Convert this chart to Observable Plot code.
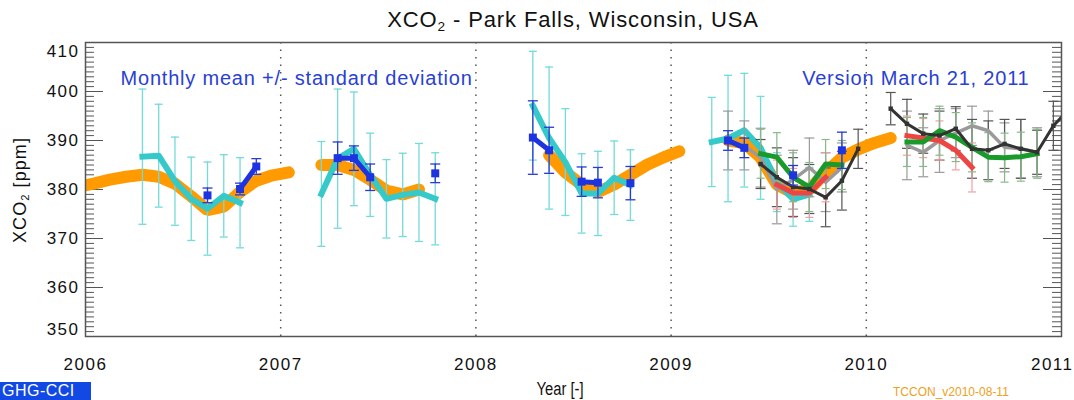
<!DOCTYPE html>
<html>
<head>
<meta charset="utf-8">
<script src="https://cdn.jsdelivr.net/npm/d3@7"></script>
<script src="https://cdn.jsdelivr.net/npm/@observablehq/plot@0.6"></script>
<style>
  body { margin: 0; background: #fff; }
  #wrap { position: relative; width: 1074px; height: 400px; overflow: hidden; font-family: "Liberation Sans", Arial, sans-serif; color: #111; }
  .abs { position: absolute; white-space: nowrap; }
  .sub { font-size: 0.62em; position: relative; top: 0.3em; }
</style>
</head>
<body>
<div id="wrap">
  <div id="chart"></div>
  <div class="abs" style="left:85px;width:976px;top:7px;text-align:center;font-size:22px;letter-spacing:0.04em;">XCO<span class="sub">2</span> - Park Falls, Wisconsin, USA</div>
  <div class="abs" style="left:20px;top:190px;transform:translate(-50%,-50%) rotate(-90deg);font-size:18px;letter-spacing:0.06em;">XCO<span class="sub">2</span> [ppm]</div>
  <div class="abs" style="left:560px;top:379px;transform:translateX(-50%) scaleX(0.82);font-size:18px;">Year [-]</div>
  <div class="abs" style="left:0;top:382px;width:91px;height:18px;line-height:18px;background:#1248e4;color:#fff;font-size:16px;letter-spacing:0.03em;padding-left:2px;box-sizing:border-box;">GHG-CCI</div>
  <div class="abs" style="left:893px;top:385px;font-size:12px;color:#f0a020;">TCCON_v2010-08-11</div>
</div>
<script>
// ---------------- data ----------------
const xTicks = [2006, 2007, 2008, 2009, 2010, 2011];
const yTicks = [350, 360, 370, 380, 390, 400, 410];
const yearLines = [2007, 2008, 2009, 2010];

// model (orange band)
const orangeMonths = ["2005-12","2006-01","2006-02","2006-03","2006-04","2006-05","2006-06","2006-07","2006-08","2006-09","2006-10","2006-11","2006-12","2007-01",
  "2007-03","2007-04","2007-05","2007-06","2007-07","2007-08","2007-09",
  "2008-05","2008-06","2008-07","2008-08","2008-09","2008-10","2008-11","2008-12","2009-01",
  "2009-04","2009-05","2009-06","2009-07","2009-08","2009-09","2009-10","2009-11","2009-12","2010-01","2010-02"];
const orangeValues = [380.5,381.2,382.0,382.6,383.0,382.6,381.2,378.6,375.8,376.5,379.5,381.8,382.9,383.5,
  385.0,385.0,384.0,382.0,379.8,379.0,380.0,
  387.0,383.5,381.0,379.5,381.0,383.0,385.0,386.5,387.8,
  390.0,389.5,386.5,381.0,379.3,380.0,383.5,386.5,388.2,389.5,390.5];

// satellite monthly mean (cyan)
const cyanMonths = ["2006-04","2006-05","2006-06","2006-07","2006-08","2006-09","2006-10",
  "2007-03","2007-04","2007-05","2007-06","2007-07","2007-08","2007-09","2007-10",
  "2008-04","2008-05","2008-06","2008-07","2008-08","2008-09","2008-10",
  "2009-03","2009-04","2009-05","2009-06","2009-07","2009-08","2009-09"];
const cyanValues = [386.7,386.9,381.7,378.1,376.1,378.7,377.3,
  379.1,386.3,388.3,383.0,378.1,378.9,379.4,378.1,
  397.1,390.5,385.6,379.2,379.2,382.4,380.9,
  389.7,390.4,392.1,388.5,381.5,378.0,379.0];
const cyanSD = [13.8,10.5,9.0,8.5,9.5,8.4,9.2,
  10.7,14.2,11.6,8.5,8.0,8.5,10.0,9.4,
  11.1,14.5,10.9,8.1,8.6,7.5,7.2,
  9.1,12.9,11.6,10.5,6.0,5.5,5.5];

// TCCON (blue)
const blueMonths = ["2006-08","2006-10","2006-11","2007-04","2007-05","2007-06","2007-10",
  "2008-04","2008-05","2008-07","2008-08","2008-10","2009-04","2009-05","2009-08","2009-11"];
const blueValues = [378.8,380.1,384.7,386.4,386.4,382.5,383.3,
  390.6,388.0,381.6,381.4,381.3,390.0,388.5,382.9,388.0];
const blueSD = [1.5,1.2,1.6,3.3,2.5,2.7,1.9,
  7.5,4.7,3.0,3.1,3.4,2.0,2.0,2.0,3.7];

// other retrievals 2009-2010
const darkGrayMonths = ["2009-06","2009-07","2009-08","2009-09","2009-10","2009-11","2009-12",
  "2010-02","2010-03","2010-04","2010-05","2010-06","2010-07","2010-08","2010-09","2010-10","2010-11","2010-12","2011-01"];
const darkGrayValues = [385.2,382.5,380.5,380.1,378.4,381.8,388.3,
  396.5,393.4,391.4,391.0,392.4,388.3,388.0,389.3,388.3,387.6,393.0,396.5];
const darkGraySD = [5,6,6,5,6,6,4, 3.3,5,4,5,4.5,6,6,5,6,4.5,5,5];

const lightGrayMonths = ["2009-04","2009-05","2009-06","2009-07","2009-08","2009-09","2009-10","2009-11",
  "2010-03","2010-04","2010-05","2010-06","2010-07","2010-08","2010-09","2010-10","2010-11"];
const lightGrayValues = [390.0,389.0,386.5,380.0,382.0,384.5,381.5,384.5,
  389.0,387.6,390.0,391.5,393.0,392.0,388.6,388.3,387.6];
const lightGraySD = [6,5,6,7,6,6,6,5, 7,5,6.5,5,4,4,5,6,5];

const greenMonths = ["2009-06","2009-07","2009-08","2009-09","2009-10","2009-11",
  "2010-03","2010-04","2010-05","2010-06","2010-07","2010-08","2010-09","2010-10","2010-11"];
const greenValues = [387.3,386.6,382.5,380.5,385.2,385.0,
  389.7,389.7,392.0,390.7,388.6,386.6,386.5,386.7,387.3];
const greenSD = [5,5,5,5,5,5, 5,5,5,5,5,5,5,5,5];

const redMonths = ["2009-07","2009-08","2009-09","2009-10","2010-03","2010-04","2010-05","2010-06","2010-07"];
const redValues = [381.0,379.3,379.3,382.5,391.0,390.5,390.0,388.0,384.5];
const redSD = [5,5,5,5,4,4,4,4,5];

// ---------------- helpers ----------------
function series(months, values, sds) {
  const out = [];
  let prev = null;
  months.forEach((m, i) => {
    const [y, mo] = m.split("-").map(Number);
    const idx = y * 12 + mo - 1;
    if (prev !== null && idx - prev > 1) out.push({t: NaN, v: NaN, sd: NaN});
    out.push({t: y + (mo - 0.5) / 12, v: values[i], sd: sds ? sds[i] : 0});
    prev = idx;
  });
  return out;
}
const pts = (s) => s.filter(d => isFinite(d.v));
const hcap = {draw(ctx, size) { const w = Math.sqrt(size / Math.PI); ctx.moveTo(-w, 0); ctx.lineTo(w, 0); }};

function errorBars(s, color, w = 4, sw = 1.2) {
  const p = pts(s);
  return [
    Plot.ruleX(p, {x: "t", y1: d => d.v - d.sd, y2: d => d.v + d.sd, stroke: color, strokeWidth: sw, clip: true}),
    Plot.dot(p, {x: "t", y: d => d.v + d.sd, symbol: hcap, r: w, stroke: color, fill: "none", strokeWidth: sw, clip: true}),
    Plot.dot(p, {x: "t", y: d => d.v - d.sd, symbol: hcap, r: w, stroke: color, fill: "none", strokeWidth: sw, clip: true})
  ];
}

const orange = series(orangeMonths, orangeValues);
const cyan = series(cyanMonths, cyanValues, cyanSD);
const blue = series(blueMonths, blueValues, blueSD);
const dark = series(darkGrayMonths, darkGrayValues, darkGraySD);
const light = series(lightGrayMonths, lightGrayValues, lightGraySD);
const green = series(greenMonths, greenValues, greenSD);
const red = series(redMonths, redValues, redSD);

const W = 1074, H = 400, ML = 85, MR = 13, MT = 42, MB = 64;
const PW = W - ML - MR;
const minor = d3.range(350, 411);
const major = yTicks;

const C = {
  orange: "#ff9a00", cyan: "#36c9c9", cyanErr: "#74dada", blue: "#1d34e0", blueErr: "#2a3ad0",
  dark: "#333333", darkErr: "#555555", light: "#9a9a9a", lightErr: "#9a9a9a",
  green: "#1a9a2a", greenErr: "#88b888", red: "#ee4444", redErr: "#f0a0a0", text: "#2a3fd4", axis: "#555"
};

const chart = Plot.plot({
  width: W, height: H,
  marginLeft: ML, marginRight: MR, marginTop: MT, marginBottom: MB,
  x: {domain: [2006, 2011], axis: null},
  y: {domain: [350, 410], axis: null},
  style: {fontFamily: "'Liberation Sans', Arial, sans-serif", fontSize: "17px", background: "#fff", overflow: "visible"},
  marks: [
    Plot.ruleX(yearLines, {x: d => d, stroke: C.axis, strokeWidth: 1.5, strokeDasharray: "1.5,6"}),
    // y ticks (inward, both sides)
    Plot.tickY(minor, {y: d => d, stroke: C.axis, strokeWidth: 1, insetRight: PW - 9}),
    Plot.tickY(major, {y: d => d, stroke: C.axis, strokeWidth: 1, insetRight: PW - 18}),
    Plot.tickY(minor, {y: d => d, stroke: C.axis, strokeWidth: 1, insetLeft: PW - 9}),
    Plot.tickY(major, {y: d => d, stroke: C.axis, strokeWidth: 1, insetLeft: PW - 18}),
    // orange band
    Plot.line(orange, {x: "t", y: "v", stroke: C.orange, strokeWidth: 12, strokeLinejoin: "miter", clip: true}),
    // cyan
    ...errorBars(cyan, C.cyanErr, 4, 1.3),
    Plot.line(cyan, {x: "t", y: "v", stroke: C.cyan, strokeWidth: 6, strokeLinecap: "square", clip: true}),
    // others 2009-2010
    ...errorBars(light, C.lightErr, 5, 1.2),
    ...errorBars(dark, C.darkErr, 5, 1.2),
    ...errorBars(red, C.redErr, 4, 1.2),
    ...errorBars(green, C.greenErr, 4, 1.2),
    Plot.line(light, {x: "t", y: "v", stroke: C.light, strokeWidth: 3.5, clip: true}),
    Plot.line(red, {x: "t", y: "v", stroke: C.red, strokeWidth: 5, strokeLinecap: "square", clip: true}),
    Plot.line(green, {x: "t", y: "v", stroke: C.green, strokeWidth: 5, strokeLinecap: "square", clip: true}),
    Plot.line(dark, {x: "t", y: "v", stroke: C.dark, strokeWidth: 3, clip: true}),
    Plot.dot(pts(dark), {x: "t", y: "v", symbol: "square", r: 2.5, fill: C.dark, clip: true}),
    // blue TCCON
    ...errorBars(blue, C.blueErr, 5, 1.3),
    Plot.line(blue, {x: "t", y: "v", stroke: C.blue, strokeWidth: 5}),
    Plot.dot(pts(blue), {x: "t", y: "v", symbol: "square", r: 4.5, fill: C.blue}),
    // frame
    Plot.frame({stroke: C.axis, strokeWidth: 1.5}),
    // tick labels
    Plot.text(yTicks.filter(d => d > 350 && d < 410), {y: d => d, text: d => String(d), frameAnchor: "left", dx: -6, textAnchor: "end", fill: "#111"}),
    Plot.text([410], {y: d => d, text: d => String(d), frameAnchor: "left", dx: -6, dy: 9, textAnchor: "end", fill: "#111"}),
    Plot.text([350], {y: d => d, text: d => String(d), frameAnchor: "left", dx: -6, dy: -7, textAnchor: "end", fill: "#111"}),
    Plot.text(xTicks.filter(d => d < 2011), {x: d => d, text: d => String(d), frameAnchor: "bottom", dy: 33, fill: "#111"}),
    Plot.text(xTicks.filter(d => d === 2011), {x: d => d, text: d => String(d), frameAnchor: "bottom", dy: 33, dx: 12, textAnchor: "end", fill: "#111"}),
    // annotations
    Plot.text(["Monthly mean +/- standard deviation"], {text: d => d, frameAnchor: "top-left", dx: 35, dy: 28, textAnchor: "start", fill: C.text, fontSize: 20}),
    Plot.text(["Version March 21, 2011"], {text: d => d, frameAnchor: "top-right", dx: -32, dy: 28, textAnchor: "end", fill: C.text, fontSize: 20})
  ]
});
// horizontal stretch of the reference lettering
d3.select(chart).selectAll("text").each(function() {
  const s = this.textContent;
  this.style.letterSpacing = /^\d+$/.test(s) ? "1.5px" : "0.8px";
});
document.getElementById("chart").appendChild(chart);
</script>
</body>
</html>
